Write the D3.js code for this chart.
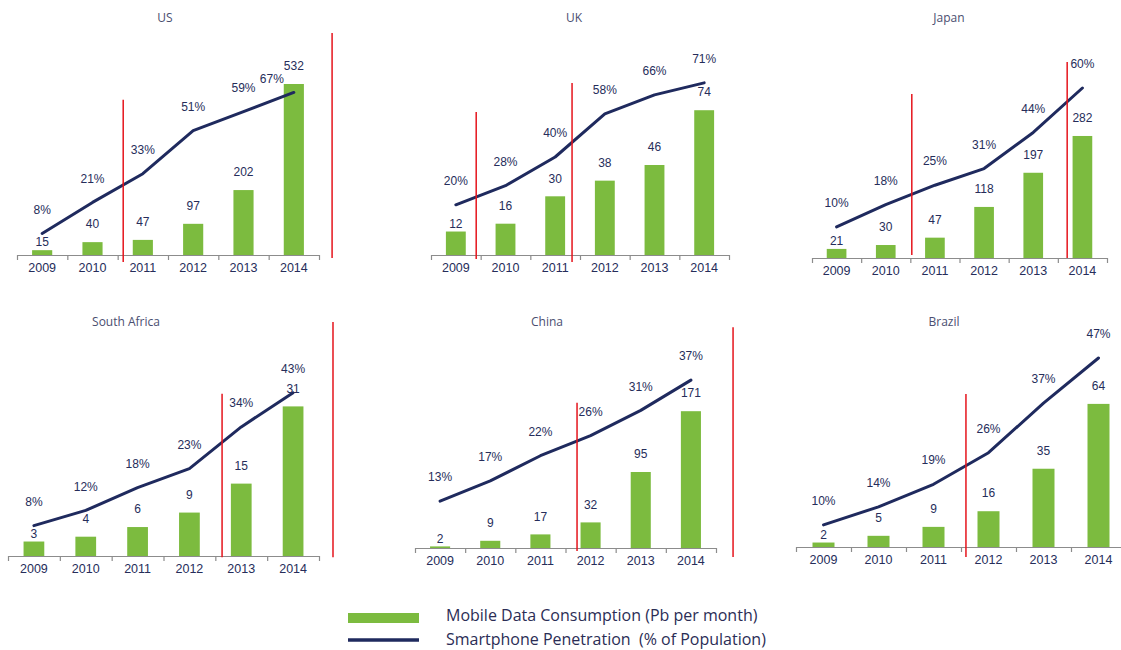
<!DOCTYPE html>
<html>
<head>
<meta charset="utf-8">
<script src="https://cdn.jsdelivr.net/npm/d3@7"></script>
<style>
body { margin: 0; background: #fff; }
svg { display: block; }
</style>
</head>
<body>
<svg id="chart" width="1121" height="650"></svg>
<script>
var years = ["2009", "2010", "2011", "2012", "2013", "2014"];
var countries = ["US", "UK", "Japan", "South Africa", "China", "Brazil"];

// mobile data consumption (Pb per month)
var usData = [15, 40, 47, 97, 202, 532];
var ukData = [12, 16, 30, 38, 46, 74];
var japanData = [21, 30, 47, 118, 197, 282];
var saData = [3, 4, 6, 9, 15, 31];
var chinaData = [2, 9, 17, 32, 95, 171];
var brazilData = [2, 5, 9, 16, 35, 64];

// smartphone penetration (% of population)
var usPen = [8, 21, 33, 51, 59, 67];
var ukPen = [20, 28, 40, 58, 66, 71];
var japanPen = [10, 18, 25, 31, 44, 60];
var saPen = [8, 12, 18, 23, 34, 43];
var chinaPen = [13, 17, 22, 26, 31, 37];
var brazilPen = [10, 14, 19, 26, 37, 47];

// red marker lines: [position in year steps, from %, to %]
var usMarks = [[2.11, -3.9, 63.9], [6.26, -2.3, 91.9]];
var ukMarks = [[0.91, -2.7, 58.8], [2.84, -3.9, 71]];
var japanMarks = [[2.03, -0.1, 57.8], [5.19, -1.2, 69.4]];
var saMarks = [[4.13, -0.3, 42.7], [6.27, -0.3, 61.6]];
var chinaMarks = [[3.23, 3.1, 32.5], [6.34, 1.9, 47.5]];
var brazilMarks = [[3.09, 2.9, 39.0]];

var legendLabels = ["Mobile Data Consumption (Pb per month)", "Smartphone Penetration  (% of Population)"];

var allData = [usData, ukData, japanData, saData, chinaData, brazilData];
var allPen = [usPen, ukPen, japanPen, saPen, chinaPen, brazilPen];
var allMarks = [usMarks, ukMarks, japanMarks, saMarks, chinaMarks, brazilMarks];

var GREEN = "#7cbb3f", NAVY = "#1f2a5e", RED = "#e5141c", TXT = "#262d5a";
var H = 180;

// panel geometry and scale domains
var layout = [
    {x0: 17,  x1: 319,  base: 255, tx: 165, ty: 18,  barMax: 560,  pen: [-1, 74.3]},
    {x0: 431, x1: 729,  base: 255, tx: 574, ty: 18,  barMax: 92,   pen: [-1, 74.3]},
    {x0: 812, x1: 1107, base: 258, tx: 949, ty: 18,  barMax: 416,  pen: [-1.2, 63.6]},
    {x0: 8,   x1: 319,  base: 556, tx: 126, ty: 322, barMax: 37.3, pen: [0, 47.4]},
    {x0: 415, x1: 716,  base: 548, tx: 547, ty: 322, barMax: 225,  pen: [3.7, 39.4]},
    {x0: 796, x1: 1126, base: 547, tx: 944, ty: 322, barMax: 80.5, pen: [5.1, 45]}
];

var svg = d3.select("#chart");

countries.forEach(function(name, k) {

    var L = layout[k];
    var vals = allData[k], pen = allPen[k];
    var g = svg.append("g").attr("class", "panel");

    var x = d3.scaleBand().domain(years).range([L.x0, L.x1])
                .paddingInner(0.6).paddingOuter(0.3);
    var idx = d3.scaleLinear().domain([0, years.length]).range([L.x0, L.x1]);
    var yBar = d3.scaleLinear().domain([0, L.barMax]).range([L.base, L.base - H]);
    var yPen = d3.scaleLinear().domain(L.pen).range([L.base, L.base - H]);
    var cx = function(i) { return x(years[i]) + x.bandwidth() / 2; };

    g.append("text")
        .attr("x", L.tx).attr("y", L.ty).attr("dy", "0.35em")
        .attr("text-anchor", "middle")
        .attr("font-family", "Open Sans, sans-serif").attr("font-size", 12)
        .attr("fill", "#4a4e70")
        .text(name);

    g.selectAll(".bar")
        .data(vals)
        .join("rect")
        .attr("class", "bar")
        .attr("x", (d, i) => x(years[i]))
        .attr("width", x.bandwidth())
        .attr("y", d => yBar(d))
        .attr("height", d => L.base - yBar(d))
        .attr("fill", GREEN);

    g.selectAll(".val")
        .data(vals)
        .join("text")
        .attr("class", "val")
        .attr("x", (d, i) => cx(i))
        .attr("y", (d, i) => yBar(d) - (i === 0 ? 8 : 18))
        .attr("dy", "0.35em")
        .attr("text-anchor", "middle")
        .attr("font-family", "Liberation Sans, Arial, sans-serif").attr("font-size", 12)
        .attr("fill", TXT)
        .text(d => d);

    var line = d3.line()
        .x((d, i) => cx(i))
        .y(d => yPen(d));

    g.append("path")
        .datum(pen)
        .attr("d", line)
        .attr("fill", "none")
        .attr("stroke", NAVY)
        .attr("stroke-width", 3)
        .attr("stroke-linejoin", "round")
        .attr("stroke-linecap", "round");

    g.selectAll(".pct")
        .data(pen)
        .join("text")
        .attr("class", "pct")
        .attr("x", (d, i) => cx(i) + (k === 0 && i === 5 ? -22 : 0))
        .attr("y", (d, i) => yPen(d) - (k === 0 && i === 5 ? 14 : 24))
        .attr("dy", "0.35em")
        .attr("text-anchor", "middle")
        .attr("font-family", "Liberation Sans, Arial, sans-serif").attr("font-size", 12)
        .attr("fill", TXT)
        .text(d => d + "%");

    // year labels
    var ax = g.append("g")
        .attr("transform", "translate(0," + L.base + ")")
        .call(d3.axisBottom(x).tickSize(0).tickPadding(8));
    ax.select(".domain").remove();
    ax.selectAll("text")
        .attr("font-family", "Liberation Sans, Arial, sans-serif").attr("font-size", 12.5)
        .attr("fill", TXT);

    // baseline with boundary ticks
    var bx = g.append("g")
        .attr("transform", "translate(0," + L.base + ")")
        .call(d3.axisBottom(idx).tickValues(d3.range(years.length + 1))
                .tickSize(5).tickSizeOuter(0).tickFormat(""));
    bx.selectAll("path, line").attr("stroke", "#8c8c8c").attr("stroke-width", 1.2);

    g.selectAll(".mark")
        .data(allMarks[k])
        .join("line")
        .attr("class", "mark")
        .attr("x1", d => idx(d[0])).attr("x2", d => idx(d[0]))
        .attr("y1", d => yPen(d[1])).attr("y2", d => yPen(d[2]))
        .attr("stroke", RED)
        .attr("stroke-width", 1.5);

});

// legend
var lg = svg.append("g");
lg.append("rect")
    .attr("x", 348).attr("y", 613).attr("width", 71).attr("height", 10)
    .attr("fill", GREEN);
lg.append("line")
    .attr("x1", 348).attr("x2", 419).attr("y1", 640).attr("y2", 640)
    .attr("stroke", NAVY).attr("stroke-width", 3.5);
lg.selectAll("text")
    .data(legendLabels)
    .join("text")
    .attr("x", 446)
    .attr("y", (d, i) => 621 + i * 24)
    .attr("font-family", "Open Sans, sans-serif").attr("font-size", 16)
    .attr("fill", "#2b2d55")
    .style("white-space", "pre")
    .text(d => d);
</script>
</body>
</html>
